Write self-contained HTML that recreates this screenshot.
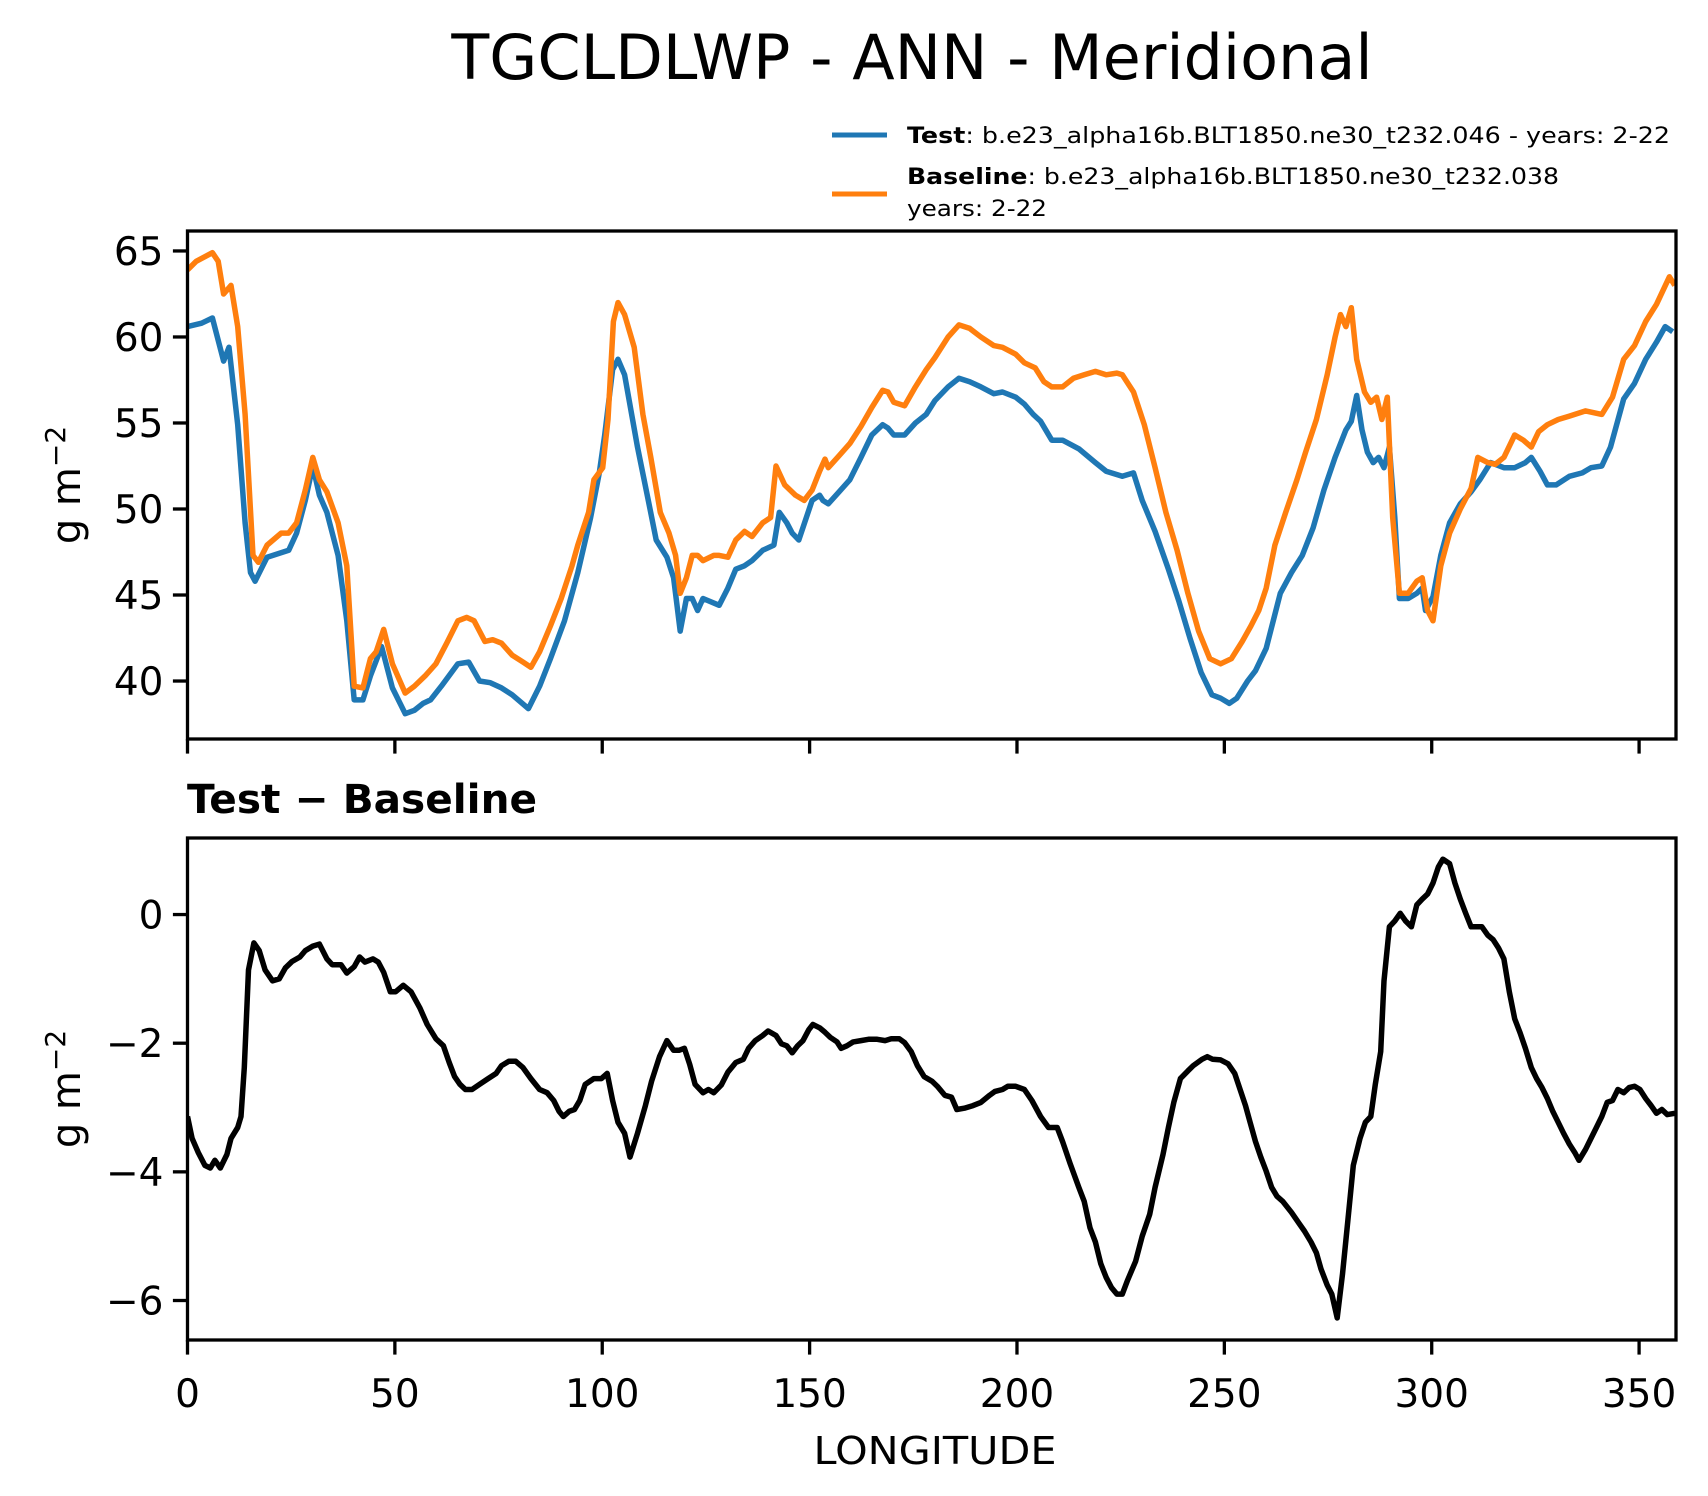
<!DOCTYPE html>
<html><head><meta charset="utf-8"><style>
html,body{margin:0;padding:0;background:#fff;}
svg{display:block;font-family:"DejaVu Sans","Liberation Sans",sans-serif;}
</style></head><body>
<svg id="fig" width="1708" height="1496" viewBox="0 0 1708 1496">
<text x="912" y="79" font-size="62" text-anchor="middle">TGCLDLWP - ANN - Meridional</text>
<g>
<line x1="832" y1="135" x2="887" y2="135" stroke="#1f77b4" stroke-width="5"/>
<line x1="832" y1="194" x2="887" y2="194" stroke="#ff7f0e" stroke-width="5"/>
<text x="907" y="143" font-size="22" textLength="763" lengthAdjust="spacingAndGlyphs"><tspan font-weight="bold">Test</tspan>: b.e23_alpha16b.BLT1850.ne30_t232.046 - years: 2-22</text>
<text x="907" y="184" font-size="22" textLength="652" lengthAdjust="spacingAndGlyphs"><tspan font-weight="bold">Baseline</tspan>: b.e23_alpha16b.BLT1850.ne30_t232.038</text>
<text x="907" y="216" font-size="22" textLength="140" lengthAdjust="spacingAndGlyphs">years: 2-22</text>
</g>
<text x="187" y="813" font-size="40" font-weight="bold" textLength="350" lengthAdjust="spacingAndGlyphs">Test − Baseline</text>
<text x="935" y="1464" font-size="38" text-anchor="middle" textLength="243" lengthAdjust="spacingAndGlyphs">LONGITUDE</text>
<g id="top"></g>
<g id="bot"></g>
</svg>
<script>
const testLon=[0,3.4,6.0,8.7,10.0,12.1,13.9,15.2,16.3,19.2,24.4,26.3,28.4,30.2,31.8,33.6,36.3,38.4,40.2,42.3,44.1,46.8,49.4,52.5,54.7,56.8,58.6,61.2,65.2,67.8,70.4,73.0,75.7,78.3,82.2,84.9,87.5,90.9,94.1,97.2,99.3,100.6,102.5,103.8,105.4,108.5,111.1,113.0,115.6,117.2,118.8,120.3,121.7,123.0,124.3,128.2,130.3,132.2,134.3,136.1,138.7,141.4,142.7,144.5,145.8,147.4,150.6,152.4,153.2,154.5,157.1,159.7,162.4,165.0,167.6,168.9,170.3,172.9,175.5,178.1,180.2,183.4,186.0,188.6,191.3,194.4,196.5,199.7,201.8,203.9,205.7,208.4,211.0,214.9,218.9,221.5,225.4,228.1,230.2,233.3,236.5,239.1,241.7,244.4,247.0,249.1,251.2,253.0,255.6,257.5,260.1,263.5,266.2,268.8,271.4,274.0,276.7,279.3,280.6,281.9,283.2,284.5,285.9,287.2,288.5,289.8,291.1,292.2,294.3,296.4,297.7,298.5,300.3,302.2,304.3,306.9,309.5,311.6,314.2,317.4,320.0,322.6,324.0,326.1,327.9,330.0,333.2,336.3,338.4,341.0,343.1,346.3,348.9,351.6,354.2,356.3,358.1];
const testVals=[60.6,60.8,61.1,58.6,59.4,54.9,49.2,46.3,45.8,47.2,47.6,48.6,50.5,52.5,50.8,49.8,47.3,43.5,38.9,38.9,40.3,42.0,39.6,38.1,38.3,38.7,38.9,39.7,41.0,41.1,40.0,39.9,39.6,39.2,38.4,39.7,41.3,43.5,46.3,49.5,52.1,54.3,58.1,58.7,57.8,53.6,50.5,48.2,47.2,46.0,42.9,44.8,44.8,44.1,44.8,44.4,45.4,46.5,46.7,47.0,47.6,47.9,49.8,49.2,48.6,48.2,50.5,50.8,50.5,50.3,51.0,51.7,53.0,54.3,54.9,54.7,54.3,54.3,55.0,55.5,56.3,57.1,57.6,57.4,57.1,56.7,56.8,56.5,56.1,55.5,55.1,54.0,54.0,53.5,52.7,52.2,51.9,52.1,50.5,48.7,46.5,44.6,42.5,40.5,39.2,39.0,38.7,39.0,40.0,40.6,41.9,45.1,46.3,47.3,48.9,51.1,53.0,54.6,55.1,56.6,54.6,53.3,52.7,53.0,52.4,53.6,49.5,44.8,44.8,45.1,45.4,44.1,44.9,47.3,49.2,50.3,51.0,51.7,52.7,52.4,52.4,52.7,53.0,52.2,51.4,51.4,51.9,52.1,52.4,52.5,53.6,56.4,57.3,58.7,59.7,60.6,60.3];
const baseLon=[0,2.1,6.0,7.4,8.7,10.5,12.1,13.9,15.8,17.1,19.2,22.6,24.4,26.3,28.4,30.2,31.8,33.6,36.3,38.4,40.2,42.3,44.1,45.5,47.3,49.4,52.5,54.7,57.3,59.9,62.5,65.2,67.3,69.1,70.4,71.7,73.6,75.7,78.3,80.9,82.8,84.9,87.5,90.1,92.7,94.1,96.7,98.0,100.1,101.4,102.7,103.8,105.4,107.7,109.8,111.7,114.0,116.1,117.7,118.8,120.3,121.7,123.0,124.3,126.9,128.2,130.3,132.2,134.3,136.1,138.7,140.6,141.9,144.0,146.6,148.7,150.6,152.4,153.7,154.5,157.1,159.7,162.4,165.0,167.6,168.9,170.3,172.9,175.5,178.1,180.2,183.4,186.0,188.6,191.3,194.4,196.5,199.7,201.8,204.4,206.5,208.4,211.0,213.6,216.2,218.9,221.5,224.1,225.4,228.1,230.7,233.3,235.9,238.6,241.2,243.8,246.5,249.1,251.7,254.3,256.4,258.3,260.1,262.2,264.8,267.5,269.6,272.2,274.8,276.7,278.0,279.3,280.6,281.9,283.8,285.3,286.7,288.0,289.3,290.6,292.2,294.3,296.4,297.7,299.0,300.3,302.2,304.3,306.9,309.5,311.1,313.5,315.3,317.4,320.0,322.1,324.0,325.8,327.9,330.5,333.2,337.1,341.0,343.6,346.3,348.9,351.6,354.2,357.3,358.6];
const baseVals=[63.9,64.4,64.9,64.4,62.5,63.0,60.6,55.5,47.3,46.9,47.9,48.6,48.6,49.2,51.1,53.0,51.7,51.0,49.2,46.7,39.7,39.6,41.3,41.7,43.0,41.0,39.3,39.7,40.3,41.0,42.2,43.5,43.7,43.5,42.9,42.3,42.4,42.2,41.5,41.1,40.8,41.7,43.2,44.8,46.7,47.9,49.8,51.7,52.4,55.2,60.9,62.0,61.3,59.4,55.5,53.0,49.8,48.6,47.3,45.1,46.0,47.3,47.3,47.0,47.3,47.3,47.2,48.2,48.7,48.4,49.2,49.5,52.5,51.4,50.8,50.5,51.1,52.2,52.9,52.4,53.1,53.8,54.8,55.9,56.9,56.8,56.2,56.0,57.1,58.1,58.8,60.0,60.7,60.5,60.0,59.5,59.4,59.0,58.5,58.2,57.4,57.1,57.1,57.6,57.8,58.0,57.8,57.9,57.8,56.8,54.9,52.4,49.8,47.6,45.1,42.9,41.3,41.0,41.3,42.3,43.2,44.1,45.4,47.9,49.8,51.7,53.3,55.2,57.8,60.0,61.3,60.6,61.7,58.7,56.8,56.2,56.5,55.2,56.5,49.5,45.1,45.1,45.8,46.0,44.1,43.5,46.7,48.6,50.0,51.2,53.0,52.7,52.6,53.0,54.3,54.0,53.6,54.5,54.9,55.2,55.4,55.7,55.5,56.5,58.7,59.5,60.9,61.9,63.5,63.0];
const diffLon=[0,1.1,2.6,4.2,5.5,6.6,7.9,9.5,10.5,12.1,12.9,13.7,14.7,16.0,17.3,18.7,20.5,22.1,23.6,25.2,27.1,28.4,30.2,31.8,33.6,34.9,37.0,38.4,40.2,41.5,42.8,44.7,46.0,47.3,48.9,50.2,52.0,53.9,56.0,57.8,59.9,61.7,63.1,64.4,65.7,67.0,68.6,70.4,72.5,74.4,75.7,77.5,79.1,80.9,82.8,84.9,86.7,88.3,89.6,90.6,92.0,93.3,94.6,95.9,98.0,99.8,101.2,102.5,103.8,105.4,106.7,108.5,110.4,111.9,113.8,115.6,117.2,118.5,119.8,121.1,122.4,124.3,125.6,126.9,128.7,130.3,132.2,134.0,135.3,136.9,138.7,140.0,141.9,143.2,144.5,145.8,147.1,148.4,149.8,150.8,152.4,153.7,155.0,156.6,157.6,159.0,160.5,162.4,164.2,166.3,168.2,169.7,171.6,172.9,174.5,176.0,177.6,179.5,180.8,182.6,184.2,185.5,187.3,189.4,191.3,193.4,194.7,196.5,197.8,199.7,201.8,203.6,205.7,207.6,209.7,211.0,212.8,214.9,216.2,217.6,218.9,220.2,221.5,222.8,224.1,225.4,226.7,228.6,230.2,232.0,233.3,235.2,236.5,237.8,239.4,241.2,242.5,244.6,245.9,247.2,249.1,250.9,252.5,253.8,255.1,256.2,257.5,258.8,260.1,261.4,262.7,264.1,266.2,268.0,269.3,270.9,272.2,273.3,274.8,275.9,277.2,278.5,279.8,281.1,282.7,284.0,285.3,286.4,287.7,288.5,289.8,291.1,292.4,293.7,295.1,296.4,297.7,299.0,300.3,301.6,302.7,304.3,305.6,306.9,308.2,309.5,310.8,312.1,313.5,314.8,316.1,317.4,318.7,320.0,321.3,322.6,324.0,325.3,326.6,327.9,329.2,330.5,331.8,333.2,334.5,335.5,337.1,338.4,339.7,341.0,342.3,343.6,344.9,346.3,347.6,348.9,350.2,351.6,352.9,354.2,355.5,356.8,358.6];
const diffVals=[-3.14,-3.48,-3.70,-3.90,-3.94,-3.82,-3.94,-3.73,-3.48,-3.31,-3.14,-2.38,-0.86,-0.44,-0.56,-0.86,-1.03,-1.00,-0.83,-0.73,-0.66,-0.56,-0.49,-0.46,-0.69,-0.78,-0.78,-0.91,-0.81,-0.66,-0.74,-0.69,-0.74,-0.90,-1.20,-1.20,-1.10,-1.20,-1.45,-1.71,-1.93,-2.04,-2.30,-2.52,-2.64,-2.72,-2.72,-2.64,-2.55,-2.47,-2.35,-2.28,-2.28,-2.38,-2.55,-2.72,-2.77,-2.89,-3.06,-3.14,-3.06,-3.03,-2.89,-2.64,-2.55,-2.55,-2.47,-2.89,-3.23,-3.40,-3.77,-3.40,-2.97,-2.59,-2.21,-1.96,-2.11,-2.11,-2.08,-2.33,-2.64,-2.77,-2.72,-2.77,-2.65,-2.45,-2.30,-2.25,-2.08,-1.96,-1.88,-1.81,-1.88,-2.01,-2.04,-2.15,-2.04,-1.96,-1.79,-1.71,-1.76,-1.83,-1.91,-1.98,-2.08,-2.04,-1.98,-1.96,-1.94,-1.94,-1.96,-1.93,-1.93,-1.99,-2.13,-2.35,-2.52,-2.59,-2.67,-2.81,-2.84,-3.03,-3.01,-2.97,-2.92,-2.81,-2.75,-2.72,-2.67,-2.67,-2.72,-2.89,-3.14,-3.31,-3.31,-3.53,-3.87,-4.24,-4.46,-4.87,-5.09,-5.43,-5.64,-5.80,-5.90,-5.90,-5.68,-5.39,-5.00,-4.66,-4.24,-3.73,-3.31,-2.92,-2.55,-2.43,-2.35,-2.25,-2.21,-2.25,-2.26,-2.32,-2.47,-2.72,-2.97,-3.23,-3.53,-3.77,-3.99,-4.24,-4.38,-4.46,-4.63,-4.80,-4.92,-5.09,-5.26,-5.51,-5.76,-5.90,-6.27,-5.59,-4.75,-3.90,-3.48,-3.23,-3.14,-2.64,-2.13,-1.03,-0.19,-0.10,0.02,-0.10,-0.19,0.15,0.24,0.32,0.49,0.74,0.86,0.79,0.49,0.24,0.02,-0.19,-0.19,-0.19,-0.32,-0.39,-0.52,-0.69,-1.20,-1.62,-1.84,-2.08,-2.38,-2.55,-2.69,-2.86,-3.06,-3.23,-3.40,-3.57,-3.70,-3.82,-3.65,-3.48,-3.31,-3.14,-2.92,-2.89,-2.72,-2.77,-2.69,-2.67,-2.72,-2.86,-2.97,-3.09,-3.03,-3.11,-3.09];
const xTicks=[0,50,100,150,200,250,300,350];
const topYTicks=[40,45,50,55,60,65];
const botYTicks=[-6,-4,-2,0];

const NS='http://www.w3.org/2000/svg';
const AX={left:187.5,right:1676,xmin:0,xmax:358.9};
function xScale(v){return AX.left+(v-AX.xmin)/(AX.xmax-AX.xmin)*(AX.right-AX.left);}
function mkY(top,bottom,vmin,vmax){return v=>bottom-(v-vmin)/(vmax-vmin)*(bottom-top);}
function el(tag,attrs,parent){const e=document.createElementNS(NS,tag);for(const k in attrs)e.setAttribute(k,attrs[k]);parent.appendChild(e);return e;}

function panel(g,top,bottom,vmin,vmax,yTicks,showXLabels,series){
  const yS=mkY(top,bottom,vmin,vmax);
  const clipId='clip'+top;
  const defs=el('defs',{},g);
  const cp=el('clipPath',{id:clipId},defs);
  el('rect',{x:AX.left,y:top,width:AX.right-AX.left,height:bottom-top},cp);
  series.forEach(s=>{
    let d='';
    s.lon.forEach((lv,i)=>{d+=(i?'L':'M')+xScale(lv).toFixed(1)+','+yS(s.vals[i]).toFixed(1);});
    const p=el('path',{d:d,fill:'none',stroke:s.color,'stroke-width':5.5,'stroke-linejoin':'round','clip-path':'url(#'+clipId+')'},g);
    
    
  });
  const frame=el('rect',{x:AX.left,y:top,width:AX.right-AX.left,height:bottom-top,fill:'none',stroke:'#000','stroke-width':3.3},g);
  
  
  xTicks.forEach(t=>{
    const x=xScale(t);
    const tk=el('line',{x1:x,y1:bottom,x2:x,y2:bottom+14.6,stroke:'#000','stroke-width':3.3},g);
    
    
    if(showXLabels){
      const tx=el('text',{x:x,y:bottom+67,'font-size':39,'text-anchor':'middle'},g);
      tx.textContent=String(t);
      
      
    }
  });
  yTicks.forEach(t=>{
    const y=yS(t);
    const tk=el('line',{x1:AX.left-14.6,y1:y,x2:AX.left,y2:y,stroke:'#000','stroke-width':3.3},g);
    
    
    const tx=el('text',{x:AX.left-24,y:y+14,'font-size':39,'text-anchor':'end'},g);
    tx.textContent=String(t).replace('-','\u2212');
    
    
  });
  const cy=(top+bottom)/2;
  const yl=el('text',{x:0,y:0,'font-size':40,'text-anchor':'middle',transform:'translate(80,'+cy+') rotate(-90)'},g);
  yl.innerHTML='g m<tspan dy="-15" font-size="28">\u22122</tspan>';
  
  
}
panel(document.getElementById('top'),231,739,36.63,66.16,topYTicks,false,[
  {lon:testLon,vals:testVals,color:'#1f77b4',name:'test-line'},
  {lon:baseLon,vals:baseVals,color:'#ff7f0e',name:'baseline-line'}]);
panel(document.getElementById('bot'),838,1340,-6.614,1.19,botYTicks,true,[
  {lon:diffLon,vals:diffVals,color:'#000000',name:'difference-line'}]);
</script>
</body></html>
